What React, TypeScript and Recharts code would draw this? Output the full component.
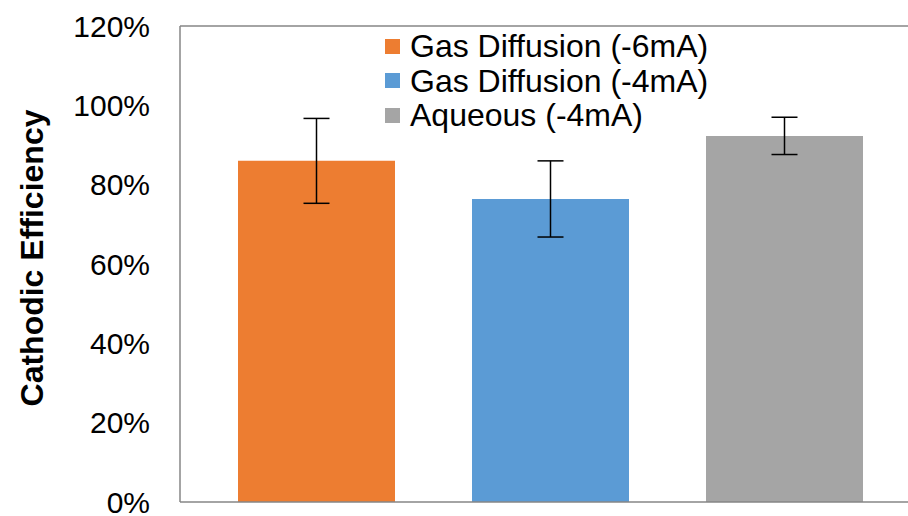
import React from 'react';
import { BarChart, Bar, XAxis, YAxis, ErrorBar, Legend, ReferenceLine } from 'recharts';

// values (fractions, axis shows %)
const categories = [''];
const seriesNames = ['Gas Diffusion (-6mA)', 'Gas Diffusion (-4mA)', 'Aqueous (-4mA)'];
const gasDiff6 = [0.86];
const gasDiff6Err = [0.107];
const gasDiff4 = [0.764];
const gasDiff4Err = [0.096];
const aqueous4 = [0.923];
const aqueous4Err = [0.047];
const yTicks = [0, 0.2, 0.4, 0.6, 0.8, 1.0, 1.2];

const data = categories.map((name, i) => ({
  name,
  gd6: gasDiff6[i],
  gd6Err: gasDiff6Err[i],
  gd4: gasDiff4[i],
  gd4Err: gasDiff4Err[i],
  aq: aqueous4[i],
  aqErr: aqueous4Err[i],
}));

const FONT = '"Liberation Sans", Arial, sans-serif';
const AXIS = '#868686';

function LegendBox({ payload }: any) {
  // keep series order as in the original (top to bottom)
  const items = [...(payload || [])].sort(
    (a: any, b: any) => seriesNames.indexOf(a.value) - seriesNames.indexOf(b.value)
  );
  return (
    <div style={{ fontFamily: FONT, fontSize: 32, lineHeight: '34.5px', color: '#000' }}>
      {items.map((p: any) => (
        <div key={p.value} style={{ display: 'flex', alignItems: 'center' }}>
          <span style={{ width: 15, height: 15, background: p.color, marginRight: 10, display: 'inline-block' }} />
          <span>{p.value}</span>
        </div>
      ))}
    </div>
  );
}

export default function App() {
  return (
    <div style={{ position: 'absolute', left: 0, top: 0, width: 908, height: 516, overflow: 'hidden', background: '#fff' }}>
      <BarChart
        width={960}
        height={516}
        data={data}
        margin={{ top: 26, right: 39, left: 0, bottom: 0 }}
        barSize={157}
        barGap={77}
      >
        <XAxis dataKey="name" tick={false} tickLine={false} height={14} axisLine={{ stroke: AXIS, strokeWidth: 1.5 }} />
        <YAxis
          width={180}
          domain={[0, 1.2]}
          ticks={yTicks}
          interval={0}
          tickFormatter={(v: number) => `${Math.round(v * 100)}%`}
          tick={{ fill: '#000', fontSize: 30, fontFamily: FONT }}
          tickLine={false}
          tickMargin={24}
          axisLine={{ stroke: AXIS, strokeWidth: 1.5 }}
          label={{
            content: () => (
              <text
                x={0}
                y={0}
                transform="translate(32, 258) rotate(-90)"
                textAnchor="middle"
                dominantBaseline="central"
                fontFamily={FONT}
                fontSize={32}
                fontWeight="bold"
                fill="#000"
              >
                Cathodic Efficiency
              </text>
            ),
          }}
        />
        <ReferenceLine y={1.2} stroke={AXIS} strokeWidth={1.5} />
        <Legend
          layout="vertical"
          align="center"
          verticalAlign="middle"
          content={<LegendBox />}
          wrapperStyle={{ left: 385, top: 29, width: 440 }}
        />
        <Bar dataKey="gd6" name={seriesNames[0]} fill="#ED7D31" isAnimationActive={false}>
          <ErrorBar dataKey="gd6Err" width={13} stroke="#000" strokeWidth={1.5} direction="y" />
        </Bar>
        <Bar dataKey="gd4" name={seriesNames[1]} fill="#5B9BD5" isAnimationActive={false}>
          <ErrorBar dataKey="gd4Err" width={13} stroke="#000" strokeWidth={1.5} direction="y" />
        </Bar>
        <Bar dataKey="aq" name={seriesNames[2]} fill="#A5A5A5" isAnimationActive={false}>
          <ErrorBar dataKey="aqErr" width={13} stroke="#000" strokeWidth={1.5} direction="y" />
        </Bar>
      </BarChart>
    </div>
  );
}
